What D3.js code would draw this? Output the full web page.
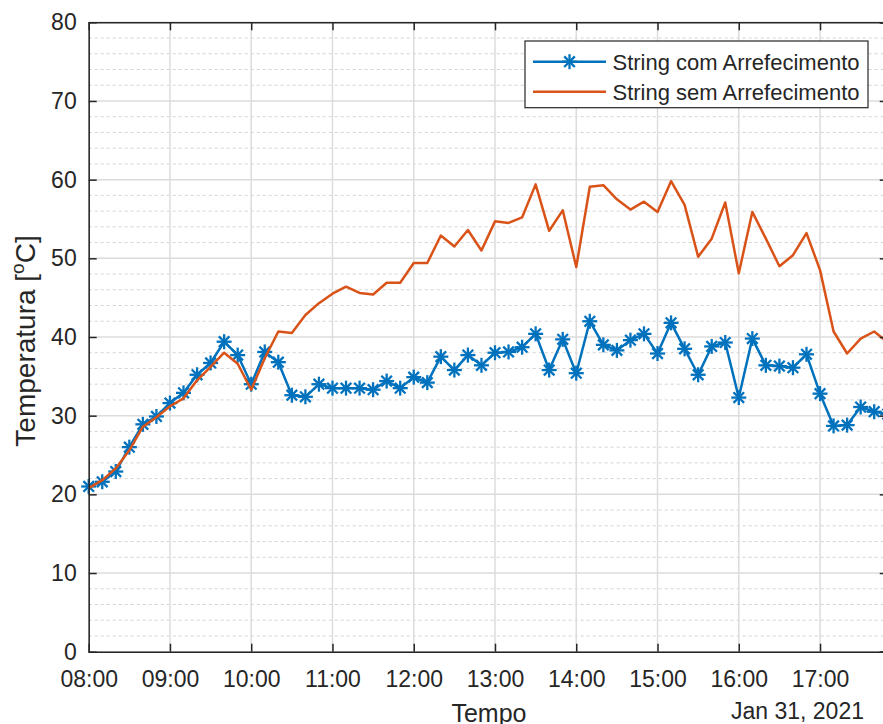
<!DOCTYPE html>
<meta charset="utf-8">
<style>
    body { margin: 0; background: #fff; }
    text { font-family: "Liberation Sans", Arial, Helvetica, sans-serif; fill: #262626; }
    .major { stroke: #dcdcdc; stroke-width: 1.5; }
    .minor { stroke: #d3d3d3; stroke-width: 1; stroke-dasharray: 3,3; }
</style>

<svg width="883" height="724"></svg>

<script src="https://d3js.org/d3.v7.min.js"></script>

<script>
// sample times, Jan 31 2021 (every 10 minutes)
var times = [
    "08:00","08:10","08:20","08:30","08:40","08:50",
    "09:00","09:10","09:20","09:30","09:40","09:50",
    "10:00","10:10","10:20","10:30","10:40","10:50",
    "11:00","11:10","11:20","11:30","11:40","11:50",
    "12:00","12:10","12:20","12:30","12:40","12:50",
    "13:00","13:10","13:20","13:30","13:40","13:50",
    "14:00","14:10","14:20","14:30","14:40","14:50",
    "15:00","15:10","15:20","15:30","15:40","15:50",
    "16:00","16:10","16:20","16:30","16:40","16:50",
    "17:00","17:10","17:20","17:30","17:40","17:50"
];
var comArrefecimento = [
    21.0, 21.6, 22.9, 26.0, 28.9, 29.9,
    31.6, 32.9, 35.2, 36.7, 39.4, 37.7,
    34.0, 38.1, 36.8, 32.6, 32.4, 34.0,
    33.5, 33.5, 33.5, 33.3, 34.4, 33.5,
    34.9, 34.2, 37.5, 35.8, 37.7, 36.4,
    38.0, 38.1, 38.7, 40.4, 35.8, 39.7,
    35.4, 42.0, 39.0, 38.3, 39.6, 40.4,
    37.9, 41.8, 38.5, 35.2, 38.8, 39.3,
    32.3, 39.8, 36.4, 36.3, 36.1, 37.8,
    32.8, 28.7, 28.8, 31.1, 30.5, 30.2
];
var semArrefecimento = [
    20.8, 21.8, 23.3, 25.6, 28.6, 29.8,
    31.2, 32.2, 34.5, 36.2, 38.0, 36.6,
    33.3, 37.3, 40.7, 40.5, 42.8, 44.3,
    45.5, 46.4, 45.6, 45.4, 46.9, 46.9,
    49.4, 49.4, 52.9, 51.5, 53.6, 51.0,
    54.7, 54.5, 55.2, 59.4, 53.5, 56.1,
    48.9, 59.1, 59.3, 57.5, 56.2, 57.2,
    55.9, 59.8, 56.8, 50.2, 52.5, 57.1,
    48.1, 55.9, 52.5, 49.0, 50.4, 53.2,
    48.5, 40.7, 37.9, 39.8, 40.7, 39.3
];
var seriesNames = ["String com Arrefecimento", "String sem Arrefecimento"];
var xTickLabels = ["08:00","09:00","10:00","11:00","12:00","13:00","14:00","15:00","16:00","17:00"];
var yTicks = [0, 10, 20, 30, 40, 50, 60, 70, 80];

(function() {
var blue = "#0072BD", orange = "#D95319";
var parse = d3.timeParse("%Y-%m-%d %H:%M");
var day = "2021-01-31 ";

var pLeft = 88.7, pTop = 22.3, pBottom = 651.7;
var x = d3.scaleTime()
    .domain([parse(day + "08:00"), parse(day + "17:50")])
    .range([pLeft, pLeft + 81.26 * (9 + 50 / 60)]);
var y = d3.scaleLinear().domain([0, 80]).range([pBottom, pTop]);
var pRight = x.range()[1];

var svg = d3.select("svg");

// grid
var minorVals = d3.range(0, 81, 2).filter(function(v) { return v % 10 !== 0; });
svg.append("g").selectAll("line").data(minorVals).enter().append("line")
    .attr("class", "minor")
    .attr("x1", pLeft).attr("x2", pRight)
    .attr("y1", function(d) { return y(d); }).attr("y2", function(d) { return y(d); });
svg.append("g").selectAll("line").data(yTicks).enter().append("line")
    .attr("class", "major")
    .attr("x1", pLeft).attr("x2", pRight)
    .attr("y1", function(d) { return y(d); }).attr("y2", function(d) { return y(d); });
var xTicks = xTickLabels.map(function(t) { return parse(day + t); });
svg.append("g").selectAll("line").data(xTicks).enter().append("line")
    .attr("class", "major")
    .attr("x1", function(d) { return x(d); }).attr("x2", function(d) { return x(d); })
    .attr("y1", pTop).attr("y2", pBottom);

// series
function rows(vals) {
    return vals.map(function(v, i) { return { t: parse(day + times[i]), v: v }; });
}
var line = d3.line().x(function(d) { return x(d.t); }).y(function(d) { return y(d.v); });

function star(g, r) {
    var a = r * Math.SQRT1_2;
    g.append("line").attr("x1", -r).attr("x2", r).attr("y1", 0).attr("y2", 0);
    g.append("line").attr("x1", 0).attr("x2", 0).attr("y1", -r).attr("y2", r);
    g.append("line").attr("x1", -a).attr("x2", a).attr("y1", -a).attr("y2", a);
    g.append("line").attr("x1", -a).attr("x2", a).attr("y1", a).attr("y2", -a);
}

var comRows = rows(comArrefecimento);
svg.append("path").datum(comRows)
    .attr("d", line).attr("fill", "none")
    .attr("stroke", blue).attr("stroke-width", 2.5).attr("stroke-linejoin", "round");
svg.append("g").attr("stroke", blue).attr("stroke-width", 2.3)
    .selectAll("g").data(comRows).enter().append("g")
    .attr("transform", function(d) { return "translate(" + x(d.t) + "," + y(d.v) + ")"; })
    .each(function() { star(d3.select(this), 7.5); });

svg.append("path").datum(rows(semArrefecimento))
    .attr("d", line).attr("fill", "none")
    .attr("stroke", orange).attr("stroke-width", 2.5).attr("stroke-linejoin", "round");

// axes box and ticks
var axLeft = svg.append("g")
    .attr("transform", "translate(" + pLeft + ",0)")
    .call(d3.axisLeft(y).tickValues(yTicks).tickSize(-8).tickPadding(12));
var axBottom = svg.append("g")
    .attr("transform", "translate(0," + pBottom + ")")
    .call(d3.axisBottom(x).tickValues(xTicks).tickFormat(d3.timeFormat("%H:%M")).tickSize(-8).tickPadding(19));
var axTop = svg.append("g")
    .attr("transform", "translate(0," + pTop + ")")
    .call(d3.axisTop(x).tickValues(xTicks).tickFormat("").tickSize(-8));
var axRight = svg.append("g")
    .attr("transform", "translate(" + pRight + ",0)")
    .call(d3.axisRight(y).tickValues(yTicks).tickFormat("").tickSize(-8));
[axLeft, axBottom, axTop, axRight].forEach(function(a) {
    a.select(".domain").attr("stroke", "#262626").attr("stroke-width", 1.5);
    a.selectAll(".tick line").attr("stroke", "#262626").attr("stroke-width", 1.5);
    a.selectAll("text").attr("font-size", 23).attr("font-family", null).style("fill", "#262626");
});
axTop.selectAll(".tick line").filter(function(d, i) { return i === 0; }).remove();
axBottom.selectAll(".tick line").filter(function(d, i) { return i === 0; }).remove();
axLeft.selectAll(".tick line").filter(function(d) { return d === 0 || d === 80; }).remove();

// axis labels
svg.append("text")
    .attr("x", 489).attr("y", 722)
    .attr("text-anchor", "middle").attr("font-size", 25)
    .text("Tempo");
svg.append("text")
    .attr("x", 864).attr("y", 719)
    .attr("text-anchor", "end").attr("font-size", 23)
    .text("Jan 31, 2021");
var yl = svg.append("text")
    .attr("transform", "translate(35,341) rotate(-90)")
    .attr("text-anchor", "middle").attr("font-size", 28);
yl.append("tspan").text("Temperatura [");
yl.append("tspan").attr("font-size", 19).attr("dy", -11).text("o");
yl.append("tspan").attr("dy", 11).text("C]");

// legend
var lg = svg.append("g");
lg.append("rect")
    .attr("x", 525).attr("y", 41).attr("width", 343).attr("height", 66.7)
    .attr("fill", "#fff").attr("stroke", "#262626").attr("stroke-width", 1.2);
var items = [{ name: seriesNames[0], color: blue, mark: true }, { name: seriesNames[1], color: orange, mark: false }];
items.forEach(function(it, i) {
    var cy = 61.7 + i * 30;
    lg.append("line").attr("x1", 533).attr("x2", 606).attr("y1", cy).attr("y2", cy)
        .attr("stroke", it.color).attr("stroke-width", 2.5);
    if (it.mark) {
        var s = lg.append("g").attr("stroke", it.color).attr("stroke-width", 2.3)
            .attr("transform", "translate(569.5," + cy + ")");
        star(s, 7.5);
    }
    lg.append("text").attr("x", 612.5).attr("y", cy + 7.8)
        .attr("font-size", 22).text(it.name);
});
})();
</script>
